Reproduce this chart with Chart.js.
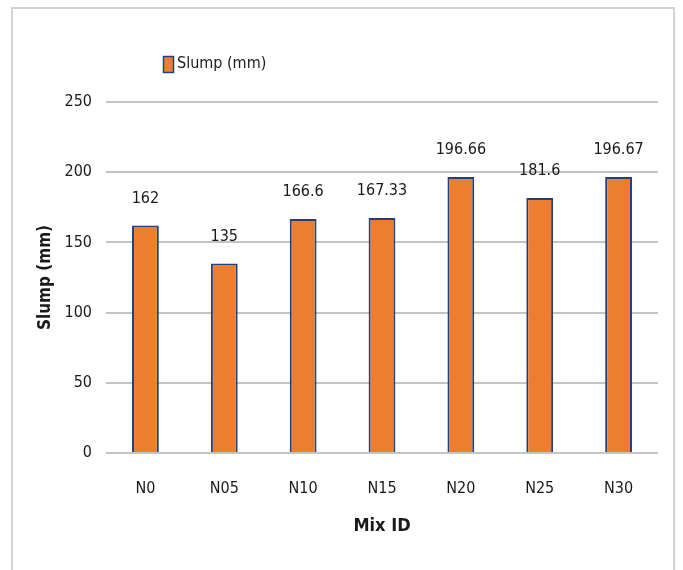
<!DOCTYPE html>
<html>
<head>
<meta charset="utf-8">
<script src="https://cdn.jsdelivr.net/npm/chart.js@4"></script>
<style>
  html, body { margin: 0; padding: 0; background: #fff; }
  #frame {
    position: absolute; left: 11px; top: 7px; width: 660px; height: 600px;
    border: 2px solid #d3d3d3; border-bottom: none;
  }
  #wrap { position: absolute; left: 0; top: 0; width: 683px; height: 570px; }
</style>
</head>
<body>
<div id="frame"></div>
<div id="wrap"><canvas id="chart" width="683" height="570"></canvas></div>
<script>
const mixIds = ["N0", "N05", "N10", "N15", "N20", "N25", "N30"];
const slump = [162, 135, 166.6, 167.33, 196.66, 181.6, 196.67];
const slumpLabels = ["162", "135", "166.6", "167.33", "196.66", "181.6", "196.67"];
const yTicks = [0, 50, 100, 150, 200, 250];

const FONT = '"Liberation Sans Narrow", "DejaVu Sans Condensed", "Open Sans", sans-serif';
const ORANGE = "#ed7d31";
const BLUE = "#24407a";

// etiquetas acima das barras + legenda manual
const extras = {
  id: "extras",
  afterDatasetsDraw(chart) {
    const ctx = chart.ctx;
    const meta = chart.getDatasetMeta(0);
    ctx.save();
    ctx.font = "16px " + FONT;
    ctx.fillStyle = "#1a1a1a";
    ctx.textAlign = "center";
    ctx.textBaseline = "middle";
    meta.data.forEach((bar, i) => {
      ctx.fillText(slumpLabels[i], bar.x, bar.y - 27);
    });

    // legenda
    const ds = chart.data.datasets[0];
    ctx.fillStyle = ds.backgroundColor;
    ctx.fillRect(163, 56, 11, 17);
    ctx.strokeStyle = ds.borderColor;
    ctx.lineWidth = 1.5;
    ctx.strokeRect(163.5, 56.5, 10, 16);
    ctx.fillStyle = "#1a1a1a";
    ctx.font = "16px " + FONT;
    ctx.textAlign = "left";
    ctx.fillText(ds.label, 177, 64);
    ctx.restore();
  }
};

new Chart(document.getElementById("chart"), {
  type: "bar",
  data: {
    labels: mixIds,
    datasets: [{
      label: "Slump (mm)",
      data: slump,
      backgroundColor: ORANGE,
      borderColor: BLUE,
      borderWidth: 2,
      borderSkipped: "bottom",
      categoryPercentage: 1,
      barPercentage: 0.34
    }]
  },
  options: {
    responsive: false,
    animation: false,
    devicePixelRatio: 1,
    layout: { padding: { left: 0, right: 25, top: 102, bottom: 0 } },
    plugins: {
      legend: { display: false },
      tooltip: { enabled: false }
    },
    scales: {
      x: {
        grid: { display: false },
        border: { display: false },
        ticks: { color: "#1a1a1a", font: { family: FONT, size: 16 }, padding: 18, autoSkip: false, maxRotation: 0 },
        title: {
          display: true, text: "Mix ID", color: "#1a1a1a",
          font: { family: FONT, size: 18, weight: "bold" },
          padding: { top: 0, bottom: 33 }
        },
        afterFit(scale) { scale.height = 117; }
      },
      y: {
        min: 0, max: 250,
        afterBuildTicks(scale) { scale.ticks = yTicks.map(v => ({ value: v })); },
        grid: { color: "#c4c4c4", lineWidth: 2, drawTicks: false },
        border: { display: false },
        ticks: { color: "#1a1a1a", font: { family: FONT, size: 16 }, padding: 14 },
        title: {
          display: true, text: "Slump (mm)", color: "#1a1a1a",
          font: { family: FONT, size: 17, weight: "bold" },
          padding: { top: 35, bottom: 0 }
        },
        afterFit(scale) { scale.width = 106; }
      }
    }
  },
  plugins: [extras]
});
</script>
</body>
</html>
